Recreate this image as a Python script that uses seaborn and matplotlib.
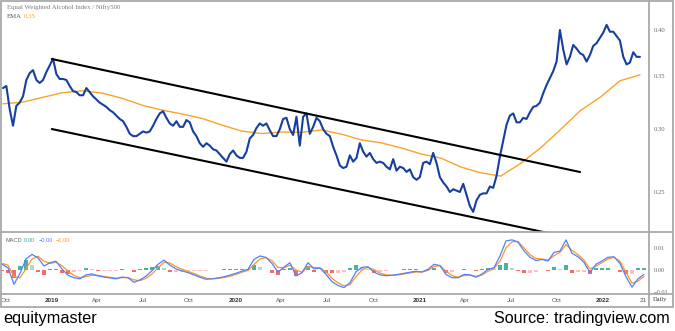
import matplotlib
matplotlib.use("Agg")
import matplotlib.pyplot as plt
from matplotlib.lines import Line2D
from matplotlib.patches import Rectangle
from matplotlib.ticker import NullLocator
import pandas as pd
import seaborn as sns

# ---- data -------------------------------------------------------------
# Equal Weighted Alcohol Index / Nifty500 ratio (weekly closes)
ratio = [
    0.338, 0.340, 0.318, 0.303, 0.321, 0.324, 0.330, 0.346, 0.353, 0.356,
    0.346, 0.343, 0.346, 0.354, 0.361, 0.368, 0.352, 0.347, 0.347, 0.346,
    0.340, 0.335, 0.334, 0.331, 0.331, 0.338, 0.334, 0.330, 0.327, 0.324,
    0.322, 0.320, 0.317, 0.315, 0.312, 0.309, 0.307, 0.302, 0.296, 0.294,
    0.294, 0.296, 0.298, 0.297, 0.298, 0.303, 0.309, 0.314, 0.316, 0.310,
    0.305, 0.303, 0.307, 0.302, 0.302, 0.308, 0.306, 0.298, 0.294, 0.288,
    0.285, 0.288, 0.286, 0.283, 0.282, 0.279, 0.276, 0.273, 0.279, 0.282,
    0.278, 0.276, 0.276, 0.281, 0.292, 0.295, 0.301, 0.305, 0.303, 0.305,
    0.299, 0.294, 0.294, 0.300, 0.309, 0.310, 0.300, 0.295, 0.311, 0.286,
    0.311, 0.314, 0.296, 0.302, 0.310, 0.307, 0.300, 0.296, 0.294, 0.285,
    0.278, 0.270, 0.268, 0.269, 0.278, 0.273, 0.276, 0.288, 0.281, 0.277,
    0.280, 0.275, 0.272, 0.273, 0.272, 0.269, 0.267, 0.275, 0.266, 0.269,
    0.268, 0.265, 0.267, 0.261, 0.259, 0.261, 0.272, 0.273, 0.271, 0.280,
    0.272, 0.261, 0.257, 0.254, 0.250, 0.252, 0.251, 0.250, 0.256, 0.248,
    0.240, 0.236, 0.244, 0.248, 0.249, 0.249, 0.254, 0.253, 0.262, 0.277,
    0.290, 0.304, 0.312, 0.314, 0.306, 0.306, 0.310, 0.309, 0.315, 0.320,
    0.321, 0.324, 0.333, 0.341, 0.348, 0.355, 0.365, 0.400, 0.378, 0.362,
    0.370, 0.383, 0.379, 0.374, 0.372, 0.365, 0.372, 0.382, 0.385, 0.391,
    0.397, 0.406, 0.398, 0.398, 0.393, 0.388, 0.370, 0.362, 0.364, 0.375,
    0.370, 0.370,
]

# Exponential moving average of the ratio
ema = [
    0.3229, 0.3245, 0.3290, 0.3335, 0.3353, 0.3330, 0.3280, 0.3215, 0.3170,
    0.3135, 0.3095, 0.3035, 0.2983, 0.2962, 0.2975, 0.2972, 0.2993, 0.2957,
    0.2908, 0.2883, 0.2841, 0.2792, 0.2758, 0.2688, 0.2643, 0.2618, 0.2715,
    0.2840, 0.2995, 0.3165, 0.3290, 0.3452, 0.3512,
]

# MACD line, signal line and histogram
macd = [
    0.0026, 0.0010, -0.0065, -0.0015, 0.0050, 0.0071, 0.0055, 0.0018, 0.0033,
    0.0040, 0.0005, -0.0024, -0.0035, -0.0040, -0.0022, -0.0018, -0.0027,
    -0.0032, -0.0036, -0.0040, -0.0032, -0.0035, -0.0056, -0.0045, -0.0028,
    -0.0003, 0.0026, 0.0045, 0.0022, 0.0005, -0.0004, -0.0012, -0.0022,
    -0.0033, -0.0042, -0.0040, -0.0036, -0.0031, -0.0023, -0.0015, -0.0005,
    0.0003, 0.0048, 0.0064, 0.0057, 0.0030, -0.0010, 0.0013, 0.0033, -0.0027,
    -0.0012, 0.0033, 0.0005, 0.0009, -0.0020, -0.0053, -0.0070, -0.0080,
    -0.0058, -0.0008, 0.0012, 0.0015, -0.0010, -0.0022, -0.0026, -0.0024,
    -0.0020, -0.0015, -0.0010, -0.0006, -0.0009, 0.0003, 0.0026, 0.0020,
    -0.0020, -0.0035, -0.0035, -0.0020, -0.0022, -0.0033, -0.0018, 0.0003,
    0.0010, 0.0064, 0.0132, 0.0137, 0.0127, 0.0087, 0.0058, 0.0043, 0.0048,
    0.0041, 0.0080, 0.0086, 0.0137, 0.0076, 0.0060, 0.0035, -0.0012, 0.0026,
    0.0041, 0.0058, 0.0060, 0.0030, -0.0030, -0.0078, -0.0040, -0.0020,
]
signal = [
    0.0030, 0.0022, -0.0030, -0.0035, 0.0005, 0.0050, 0.0062, 0.0040, 0.0030,
    0.0035, 0.0020, -0.0005, -0.0025, -0.0035, -0.0030, -0.0024, -0.0024,
    -0.0029, -0.0033, -0.0037, -0.0035, -0.0034, -0.0045, -0.0048, -0.0038,
    -0.0018, 0.0010, 0.0035, 0.0032, 0.0015, 0.0004, -0.0006, -0.0016,
    -0.0027, -0.0037, -0.0040, -0.0038, -0.0034, -0.0028, -0.0020, -0.0010,
    -0.0002, 0.0025, 0.0050, 0.0057, 0.0042, 0.0012, 0.0010, 0.0022, 0.0000,
    -0.0010, 0.0015, 0.0012, 0.0010, -0.0008, -0.0038, -0.0058, -0.0072,
    -0.0066, -0.0030, 0.0000, 0.0012, 0.0002, -0.0014, -0.0022, -0.0024,
    -0.0022, -0.0018, -0.0013, -0.0009, -0.0009, -0.0002, 0.0016, 0.0020,
    -0.0005, -0.0025, -0.0033, -0.0026, -0.0023, -0.0029, -0.0023, -0.0006,
    0.0006, 0.0040, 0.0100, 0.0128, 0.0130, 0.0100, 0.0070, 0.0052, 0.0050,
    0.0045, 0.0065, 0.0080, 0.0115, 0.0090, 0.0070, 0.0045, 0.0005, 0.0018,
    0.0033, 0.0050, 0.0058, 0.0040, -0.0010, -0.0060, -0.0050, -0.0030,
]
histogram = [
    -0.0004, -0.0012, -0.0035, 0.0020, 0.0045, 0.0021, -0.0007, -0.0022, 0.0003,
    0.0005, -0.0015, -0.0019, -0.0010, -0.0005, 0.0008, 0.0006, -0.0003,
    -0.0003, -0.0003, -0.0003, 0.0003, -0.0001, -0.0011, 0.0003, 0.0010,
    0.0015, 0.0016, 0.0010, -0.0010, -0.0010, -0.0008, -0.0006, -0.0006,
    -0.0006, -0.0005, 0.0000, 0.0002, 0.0003, 0.0005, 0.0005, 0.0005,
    0.0005, 0.0023, 0.0014, 0.0000, -0.0012, -0.0022, 0.0003, 0.0011, -0.0027,
    -0.0002, 0.0018, -0.0007, -0.0001, -0.0012, -0.0015, -0.0012, -0.0008,
    0.0008, 0.0022, 0.0012, 0.0003, -0.0012, -0.0008, -0.0004, 0.0000,
    0.0002, 0.0003, 0.0003, 0.0003, 0.0000, 0.0005, 0.0010, 0.0000,
    -0.0015, -0.0010, -0.0002, 0.0006, 0.0001, -0.0004, 0.0005, 0.0009,
    0.0004, 0.0024, 0.0032, 0.0009, -0.0003, -0.0013, -0.0012, -0.0009, -0.0002,
    -0.0004, 0.0015, 0.0006, 0.0022, -0.0014, -0.0010, -0.0010, -0.0017, 0.0008,
    0.0008, 0.0008, 0.0002, -0.0010, -0.0020, -0.0018, 0.0010, 0.0010,
]

ratio_dates = pd.date_range("2018-09-26", "2022-03-15", periods=len(ratio))
ema_dates = pd.date_range("2018-09-26", "2022-03-15", periods=len(ema))
macd_dates = pd.date_range("2018-09-24", "2022-03-23", periods=len(macd))

# Falling channel drawn on the ratio
channel_top_dates = ["2019-01-01", "2021-11-16"]
channel_top_values = [0.3677, 0.2649]
channel_bottom_dates = ["2019-01-01", "2021-09-17"]
channel_bottom_values = [0.3001, 0.2217]

ratio_ticks = [0.25, 0.30, 0.35, 0.40]
ratio_tick_labels = ["0.25", "0.30", "0.35", "0.40"]
macd_ticks = [-0.01, 0.0, 0.01]
macd_tick_labels = ["\u22120.01", "0.00", "0.01"]
date_ticks = ["2018-10-01", "2019-01-01", "2019-04-01", "2019-07-01",
              "2019-10-01", "2020-01-01", "2020-04-01", "2020-07-01",
              "2020-10-01", "2021-01-01", "2021-04-01", "2021-07-01",
              "2021-10-01", "2022-01-01", "2022-03-21"]
date_labels = ["Oct", "2019", "Apr", "Jul", "Oct", "2020", "Apr", "Jul",
               "Oct", "2021", "Apr", "Jul", "Oct", "2022", "21"]

# ---- figure -------------------------------------------------------------
sns.set_style("white")
W, H = 675, 331
fig = plt.figure(figsize=(W / 100, H / 100), dpi=100)
fig.patch.set_facecolor("white")


def box(left, top, right, bottom):
    return [left / W, 1 - bottom / H, (right - left) / W, (bottom - top) / H]


def pt(x, y):
    return (x / W, 1 - y / H)


BLUE = "#173f9e"
EMA_ORANGE = "#f8a42a"
MACD_BLUE = "#4f81ff"
SIG_ORANGE = "#ff9328"
GRID = "#a9a9a9"
LABEL = "#6a6a6a"

ax = fig.add_axes(box(1, 1, 649, 232))
axm = fig.add_axes(box(1, 232, 649, 294), sharex=ax)

# price panel
sns.lineplot(x=ema_dates, y=ema, ax=ax, color=EMA_ORANGE, lw=1.0)
sns.lineplot(x=ratio_dates, y=ratio, ax=ax, color=BLUE, lw=1.5)
sns.lineplot(x=pd.to_datetime(channel_top_dates), y=channel_top_values,
             ax=ax, color="black", lw=1.5)
sns.lineplot(x=pd.to_datetime(channel_bottom_dates), y=channel_bottom_values,
             ax=ax, color="black", lw=1.5)
ax.set_yscale("log")
ax.set_ylim(0.2226, 0.4351)
ax.set_xlim(pd.Timestamp("2018-09-22"), pd.Timestamp("2022-04-02"))
ax.yaxis.tick_right()
ax.set_yticks(ratio_ticks)
ax.set_yticklabels(ratio_tick_labels)
ax.yaxis.set_minor_locator(NullLocator())
ax.tick_params(axis="y", length=0, pad=3.2, labelsize=4.8, labelcolor=LABEL)
ax.tick_params(axis="x", length=0, labelbottom=False)
for lbl in ax.get_yticklabels():
    lbl.set_fontfamily("Liberation Serif")
ax.set_xlabel("")
ax.set_ylabel("")
for s in ax.spines.values():
    s.set_visible(False)

# MACD panel
hist_colors = []
prev = 0.0
for h in histogram:
    if h >= 0:
        hist_colors.append("#26a69a" if h >= prev else "#9fd6d0")
    else:
        hist_colors.append("#ffb3ba" if h >= prev else "#ef5350")
    prev = h
axm.bar(macd_dates, histogram, width=8.0, color=hist_colors, alpha=0.85,
        linewidth=0)
sns.lineplot(x=macd_dates, y=signal, ax=axm, color=SIG_ORANGE, lw=0.9)
sns.lineplot(x=macd_dates, y=macd, ax=axm, color=MACD_BLUE, lw=0.9)
axm.set_ylim(-0.0109, 0.01727)
axm.yaxis.tick_right()
axm.set_yticks(macd_ticks)
axm.set_yticklabels(macd_tick_labels)
axm.tick_params(axis="y", length=0, pad=3.2, labelsize=4.6, labelcolor=LABEL)
axm.set_xticks(pd.to_datetime(date_ticks))
axm.set_xticklabels(date_labels)
axm.tick_params(axis="x", length=0, pad=3.0, labelsize=4.6, labelcolor="#555555")
for lbl in axm.get_xticklabels():
    lbl.set_fontfamily("Liberation Sans")
    if lbl.get_text() in ("2019", "2020", "2021", "2022"):
        lbl.set_fontweight("bold")
        lbl.set_color("#333333")
for lbl in axm.get_yticklabels():
    lbl.set_fontfamily("Liberation Serif")
axm.set_xlabel("")
axm.set_ylabel("")
for s in axm.spines.values():
    s.set_visible(False)

# frame and separators
fig.add_artist(Rectangle(pt(1, 307), 672 / W, 306 / H, fill=False,
                         edgecolor=GRID, lw=1.3, transform=fig.transFigure))
for (x0, y0, x1, y1) in [(649, 1, 649, 307), (1, 232, 673, 232),
                         (1, 294, 673, 294)]:
    fig.add_artist(Line2D([x0 / W, x1 / W], [1 - y0 / H, 1 - y1 / H],
                          color=GRID, lw=1.3, transform=fig.transFigure))

# legends and captions
fig.text(*pt(7, 7.5), "Equal Weighted Alcohol Index / Nifty500", fontsize=4.9,
         family="Liberation Serif", color="#7a7a7a", va="center")
fig.text(*pt(7, 16.5), "EMA", fontsize=4.9, family="Liberation Serif",
         color="#555555", va="center")
fig.text(*pt(23.5, 16.5), "0.35", fontsize=4.9, family="Liberation Serif",
         color=EMA_ORANGE, va="center")
fig.text(*pt(6, 240), "MACD", fontsize=4.1, family="Liberation Sans",
         color="#666666", va="center")
fig.text(*pt(24, 240), "0.00", fontsize=4.1, family="Liberation Sans",
         color="#26a69a", va="center")
fig.text(*pt(38.5, 240), "\u22120.00", fontsize=4.1, family="Liberation Sans",
         color=MACD_BLUE, va="center")
fig.text(*pt(55.5, 240), "\u22120.00", fontsize=4.1, family="Liberation Sans",
         color=SIG_ORANGE, va="center")
fig.text(*pt(653, 299.5), "Daily", fontsize=4.6, family="Liberation Serif",
         color="#333333", va="center")
fig.text(*pt(3, 323), "equitymaster", fontsize=11.8, family="Liberation Sans",
         color="black", va="baseline")
fig.text(*pt(670, 323), "Source: tradingview.com", fontsize=11.6,
         family="Liberation Sans", color="black", va="baseline", ha="right")

fig.savefig("out.png", dpi=100, facecolor="white")
